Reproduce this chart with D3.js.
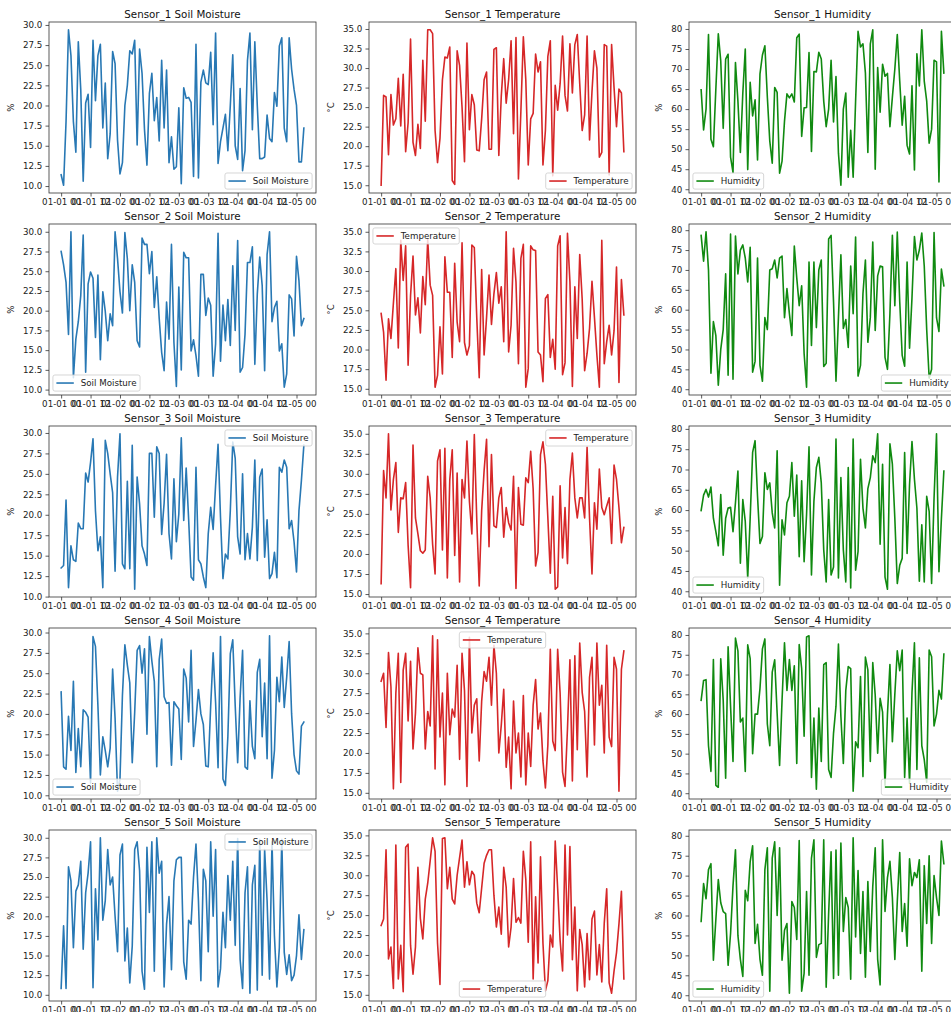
<!DOCTYPE html>
<html><head><meta charset="utf-8">
<script src="https://cdn.jsdelivr.net/npm/d3@7"></script>
<style>body{margin:0;background:#fff;overflow:hidden} svg{display:block}</style>
</head><body>
<svg id="chart" width="951" height="1012"></svg>
<script>
const sensors = ["Sensor_1","Sensor_2","Sensor_3","Sensor_4","Sensor_5"];
const metrics = ["Soil Moisture","Temperature","Humidity"];
const units = ["%","°C","%"];
const colors = ["#2878b4","#d62728","#108a10"];
const yTicks = [[10,12.5,15,17.5,20,22.5,25,27.5,30],[15,17.5,20,22.5,25,27.5,30,32.5,35],[40,45,50,55,60,65,70,75,80]];
const yTickFormats = [".1f",".1f","d"];
const xTickHours = [0,12,24,36,48,60,72,84,96];
const startTime = Date.UTC(2023,0,1,0,0,0);

const s1Soil = [11.4,10.1,18,29.4,26.2,18,14.2,27.9,22,10.6,20.3,21.4,14.8,28.1,20.6,26.2,27.6,17.2,22.8,13.4,16.5,26.7,25.2,15.7,11.5,12.9,20,22.5,26.8,26.4,28.1,15.1,27.0,24,17,12.6,21.5,24,18.1,21,15.6,25.6,17.2,24.4,12.9,16.1,12.1,12.4,19.7,10.3,22.2,20.9,21.0,20.4,11.2,27.6,11.0,22.9,24.4,22.8,22.6,26.6,17.6,29.0,12.8,15.5,17.2,18.9,14.4,20,26.3,15,13.3,22.1,11.9,14.4,25.6,29.0,17,27.9,20,13.4,13.4,13.6,18.8,15.9,15.5,21.6,19.9,27.4,28.4,17.2,15.5,28.4,24.5,22,20,13,13,17.2];
const s1Temp = [15.0,26.5,26.3,18.9,26.6,22.7,23.5,28.7,22.6,29.2,19.3,23,33.7,20.5,18.8,22.8,19.7,31,23.2,34.9,34.9,34.4,22,17.9,21,28.5,31.4,31.3,32.7,15.6,15.1,32.2,30.3,25,18,33.2,22.1,26.6,25.3,19.5,19.4,23.5,28.5,29.5,19.6,19.6,32.4,32.6,18.8,26.4,31.2,25.5,28.5,33.5,21.6,33.9,15.8,24.5,34.0,28.5,17.6,23.5,24.2,31.8,29.5,30.8,17.6,22,31.5,33.5,16.2,27.8,24.6,28,34.1,26.5,24.5,33.1,26.8,33,34.3,28,22,24,34.1,20.8,27,32.2,30,18.6,19.2,33,32.8,16.3,33,27.5,22.5,27.3,26.8,19.3];
const s1Hum = [64.8,54.8,60,78.6,52.5,50.6,65,78.8,72,55.2,72.5,73.7,48,44.2,71.6,62,49.2,64,75,44.9,66.7,58.3,62.3,47.3,68.8,73.5,75.8,63,52,46.5,65.4,64.2,44,47,57,63.8,62.8,63.8,61.8,77.8,78.7,53.2,60.3,60.4,74.1,49.4,69.4,69.3,74.2,72.5,62,55.6,60,72.2,56.8,68.1,49,41,60,64,43,54.7,43,62,79.4,75.5,76.3,69,49.2,76.3,79.8,45,70.4,59.2,71.2,68.2,68.9,55.6,63,70,78.6,67,56,63.2,51,48.8,65.8,44.8,73.8,65.8,79.8,67,62,51.5,55,72.2,71.8,41.8,79.4,69];
const s2Soil = [27.5,25.8,23.6,17.0,30.0,11.5,16.4,18.6,21.9,29.6,12.2,23.4,24.9,24.1,16.6,24.5,13.8,22.4,19.9,16.2,19.6,18.1,30.0,26.6,22.4,19.7,29.9,26.6,20.0,25.8,23.6,16.2,15.4,29.2,28.4,28.4,24.7,27.5,20.4,24.3,19.0,14.7,12.4,21.1,16.4,28.4,16.0,10.4,23.0,12.5,27.4,26.7,26.7,14.9,16.3,14.3,11.7,24.6,24.6,19.4,21.6,20.7,11.7,15.8,29.8,13.6,20.7,16.2,21.4,15.6,25.7,17.5,28.9,12.2,12.8,17.0,26.1,26.1,28.1,13.2,22.1,26.8,23.2,12.4,27.1,30.0,18.6,20.4,21.2,14.9,15.8,10.3,12.0,22.0,21.5,16.8,26.9,23.8,18.1,19.0];
const s2Temp = [24.6,22.2,16.1,23.9,21.4,25.9,30.3,20.2,33.9,28.8,33.2,18.0,26.9,31.9,24.4,26.6,22.1,29.3,25.7,34.0,28.2,26.9,15.2,16.7,22.9,16.9,31.8,27.3,27.3,19.0,31.0,23.5,21.0,33.6,20.9,19.3,20.5,33.3,33.0,24.1,16.4,30.2,19.3,24.1,29.5,23.2,27.1,29.8,25.9,28.0,21.0,35.0,19.7,23.1,32.9,28.6,18.2,31.6,33.4,15.2,17.6,33.2,32.7,32.6,19.7,19.3,15.9,26.5,27.0,19.0,21.3,17.5,33.2,34.5,16.8,18.3,34.8,28.6,15.3,28.0,21.4,32.1,26.4,17.3,19.5,22.7,28.7,24.1,19.3,15.2,33.9,18.2,21.0,23.1,19.3,22.4,30.5,15.8,28.9,24.4];
const s2Hum = [78.7,72.2,79.6,70,44,57,53.5,41,50,55,69,43.5,79,42.5,78.5,69,75,76.3,73,67,75.7,44.3,47,73,46,42,58,55,70,70.3,72.5,68,73,73.5,58,65.3,59,53.5,76,68,61,66,49,40.5,72,51,72,55.5,70,72.5,45.7,46.5,77.8,78.7,62,42,58,73.8,55.3,57.5,50.5,71,59,78.3,43.3,46,64,72.5,51.8,58,77,54.8,68.5,71,70.8,48,45,59,78.7,61,79.5,62,48.5,45.8,72,50.3,63,78.4,72.5,75,79.3,71,55,42.8,45,79.4,58,54.5,70.2,66];
const s3Soil = [13.5,13.8,21.8,11.1,16.2,14.5,14.3,19.0,18.3,18.3,25.1,24.0,26.4,29.3,20.5,15.6,17.3,11.1,29.1,27.5,25.0,22.7,13.1,24.6,29.9,14.0,13.4,24.1,13.4,28.5,10.9,24.6,21.3,16.2,15.2,13.8,27.5,27.5,19.7,28.3,27.5,17.6,21.4,27.4,17.7,14.6,24.4,16.7,20.1,29.4,19.3,25.7,19.5,12.4,12.0,25.8,14.5,14.0,12.4,11.1,17.7,20.9,18.2,23.6,28.6,19.7,12.2,15.2,14.6,20.5,28.9,26.9,17.3,15.2,25.0,14.5,17.7,14.6,18.5,26.7,14.4,24.6,25.6,14.8,19.4,12.2,12.8,15.4,12.3,25.8,25.2,26.7,25.8,18.3,19.3,16.7,13.0,20.5,24.2,28.5];
const s3Temp = [16.3,30.4,27.0,35.0,25.5,29.3,31.4,22.7,27.0,26.9,28.9,21.1,15.8,33.6,24.5,22.5,20.4,20.1,20.5,29.7,27.0,21.2,17.5,31.6,33.0,20.5,33.2,17.0,29.3,33.0,19.8,30.1,16.5,29.3,27.0,34.1,26.6,22.5,34.9,24.3,16.0,25.4,30.4,34.3,20.9,32.4,23.5,23.3,27.0,28.3,22.1,25.8,23.9,23.0,29.7,15.7,28.3,23.7,23.6,29.5,28.9,32.8,28.1,18.5,20.2,32.4,34.0,31.2,24.5,17.6,27.2,15.6,15.9,28.5,19.5,25.8,18.8,29.3,32.6,27.0,24.5,27.0,27.0,24.5,33.3,24.5,17.5,26.4,23.1,30.6,25.8,24.9,26.0,27.0,21.3,31.1,29.3,25.8,21.4,23.3];
const s3Hum = [59.9,63.7,65.1,63.2,65.7,58.0,54.7,51.2,63.8,48.9,58.0,60.5,60.7,54.7,61.8,69.6,46.9,62.6,57.2,43.3,58.0,74.2,77.1,63.4,51.8,53.5,69.2,65.1,66.7,59.3,55.6,74.6,41.5,57.6,53.9,61.8,63.4,71.7,58.5,68.6,48.5,67.2,47.3,58.9,75.6,44.0,62.2,70.5,73.0,66.7,50.2,42.3,62.6,44.0,46.0,77.5,43.3,68.0,50.2,42.3,70.5,40.8,77.5,45.2,49.8,72.5,60.5,55.6,65.3,68.0,73.4,71.7,78.8,51.6,71.3,43.5,40.5,76.3,71.3,58.0,41.9,46.4,48.1,74.2,49.3,66.3,76.9,67.6,60.5,42.5,56.4,42.3,63.4,59.7,41.9,63.0,78.8,44.8,58.0,69.6];
const s4Soil = [22.7,13.5,13.2,19.7,15.5,24,12.8,18.2,13.5,20.5,20.2,19.6,11.5,29.5,28.3,21,12.5,17.2,15.5,13.5,15.8,25.5,19.5,10.5,12,22.3,28.5,26,23.8,14,20.2,27.8,28.4,25,28,17.5,29.5,26.5,24,13.5,26.7,29.2,22.1,21.3,21.4,13.7,21.5,21,20.6,14.4,25.5,24.4,19,27.8,16,19.2,23,20,18.7,13.6,13.5,21,27.5,21.4,13.4,29.5,12,11.2,17.2,27.4,29.1,21,14,22,27.8,13.5,13.2,21.6,16,14.5,25.1,26.7,17.2,23.8,14.5,29.6,12.1,15.5,24.5,21.5,27,20.8,24.5,28.9,20,15,13,12.6,18.5,19];
const s4Temp = [29,30,23.2,32.6,28.3,15.5,27.5,32.5,16.3,30.4,32.5,24,31.5,20.5,25,33.2,30,29.8,20.5,25.2,23.4,34.7,18,34.2,22,27.5,16,30,22.3,25.5,24.5,31,19.2,32.5,27.8,15.8,34.5,22.5,26,26.8,19,26.5,30.2,29,32,26,33.5,30,20,23.5,28,18.2,22,15.5,26.5,20,22.5,17,27.2,16,22.5,18.3,26,29.2,23,25,19,15.6,21,33,21.5,20.3,33,27.5,17.6,15.8,23,31.7,16.5,32.2,20.4,33.8,27.6,25.2,17,29.5,32,21,33.8,26,28.5,20,33.5,22,20.8,32,30.5,15.2,30.5,32.8];
const s4Hum = [63.5,68.5,68.7,52,45.5,73.8,42,41.5,74,63.5,43.8,77,62,48,79.2,76,58,59,45.5,77.5,74,50,60,60,66.5,76.5,79,57.5,52,70.6,73.7,60.2,47,63.5,78,66,73.8,66,72.2,47.5,77.6,71.5,54.4,79.5,79.8,44,59,41,61.5,48,72.5,73,46,44,55.2,62,77.7,59.4,47.5,66,72,71.5,40.5,53,51.5,69.5,44.2,74.4,71.2,48,73,64.8,50.1,64,60.5,42,60,72.5,53,65,76,71,76.2,44,59,42.5,65.5,78,46,74.2,52,48.5,42.8,76.2,74.5,57,60,66,63.8,75.2];
const s5Soil = [10.8,18.8,10.8,26.3,24.5,16,23.2,24,27,15.8,23,25.5,29.5,10.9,23.5,17,30,19.5,22,28.5,24,25,20,15.5,27.8,29.2,14.3,18.5,11.5,16.2,28.5,29.5,25.8,13,10.7,28.8,20.5,29.5,13,30,25.5,27,11,19,22.5,13.2,24.5,27.2,27.5,27.5,14.2,12,19.5,19,25,29.2,22,11.8,26,24.5,15.5,29.5,20,28.5,11,13.3,20.5,16,25.2,19.5,27,16.3,29.9,14.5,10.8,23,26.3,10.2,24,26.5,10.6,29.8,12.5,28.5,22,12,29.5,17.5,11,16,29.8,15.4,12.6,15.1,11.8,12.5,15,20.2,14.5,18.3];
const s5Temp = [23.7,24.5,33.2,19.5,21,15.8,33.8,17,21.2,15.4,33.5,33.9,21.2,17.6,21,31,24.6,22,27,29,31.8,34.7,33,21.5,16.3,34.6,34.7,28.3,31,27,26.4,30,32.2,34.4,28.5,31.7,28.8,30.5,30,26.5,25.3,28.4,31.5,32.5,33.2,33.2,27.5,23.5,26,22.6,31,28.5,21,23.5,29.6,24.1,24.7,24,33,29.5,21.6,34.2,17,27.3,19,32.3,21.5,15.5,16.8,22.5,21,34.3,28.3,21.8,18,33.8,22.5,33.6,19.4,26,15.5,23.2,21.3,16,22.7,16.9,24.5,25.5,17.5,21.3,16.6,24,28.3,16.5,15.2,18,20.3,23.9,28,17];
const s5Hum = [58.5,68,64.2,71.5,73,48.8,59,69,63.2,61,60.5,47.5,55.5,67.5,76.5,55,49,44.7,66.3,63.7,73.5,77.5,53,57.8,49,45,71.5,77,41,74.4,78.5,60,77,48.8,56.3,58,40.5,63.5,62,54,78.8,41,45.5,66,45,74.4,79,49.5,52.7,53,79,42,60.5,76,44.2,76.4,45,78.2,56,64.5,62,44,79.5,54.6,71.3,50.5,66,44.5,68.5,51,67.3,77,49,42.6,79,61,69.5,73.6,64.5,49,63.5,75.8,56,63,52.3,74.2,67.5,70.8,69.5,74,46,72.5,58,75,53,70,64.5,60,78.7,73];

const seriesGrid = [
  [s1Soil,s1Temp,s1Hum],
  [s2Soil,s2Temp,s2Hum],
  [s3Soil,s3Temp,s3Hum],
  [s4Soil,s4Temp,s4Hum],
  [s5Soil,s5Temp,s5Hum]
];
const legendLoc = [
  ["lower right","lower right","lower left"],
  ["lower left","upper left","lower right"],
  ["upper right","upper right","lower left"],
  ["lower left","upper center","lower right"],
  ["upper right","lower center","lower left"]
];

// ---- layout ----
const colLeft = [49,369,689];
const rowTop = [22,224,426,628,830];
const W = 267, H = 171;
const FS = 8.7, TFS = 10.3;
const FONT = "DejaVu Sans, Verdana, sans-serif";
const spineColor = "#333";

const svg = d3.select("#chart");
svg.append("rect").attr("width",951).attr("height",1012).attr("fill","#fff");

const fmtX = d3.utcFormat("%m-%d %H");

seriesGrid.forEach((row, r) => {
  row.forEach((vals, c) => {
    const g = svg.append("g").attr("transform",`translate(${colLeft[c]},${rowTop[r]})`);
    const times = vals.map((v,i)=> new Date(startTime + i*3600*1000));
    const t0 = +times[0], t1 = +times[times.length-1];
    const tm = (t1-t0)*0.05;
    const x = d3.scaleUtc().domain([new Date(t0-tm), new Date(t1+tm)]).range([0,W]);
    const [mn,mx] = d3.extent(vals);
    const ym = (mx-mn)*0.05;
    const y = d3.scaleLinear().domain([mn-ym, mx+ym]).range([H,0]);

    const line = d3.line().x((d,i)=>x(times[i])).y(d=>y(d));
    g.append("path").datum(vals).attr("d",line)
      .attr("fill","none").attr("stroke",colors[c]).attr("stroke-width",1.6)
      .attr("stroke-linejoin","round").attr("stroke-linecap","square");

    const xTicks = xTickHours.map(h=>new Date(startTime+h*3600*1000));
    const xAxis = d3.axisBottom(x).tickValues(xTicks).tickFormat(fmtX).tickSize(3.5).tickPadding(2.6);
    const xa = g.append("g").attr("transform",`translate(0,${H})`).call(xAxis);
    const yt = yTicks[c].filter(v=> v>=y.domain()[0] && v<=y.domain()[1]);
    const yAxis = d3.axisLeft(y).tickValues(yt).tickFormat(d3.format(yTickFormats[c])).tickSize(3.5).tickPadding(3.2);
    const ya = g.append("g").call(yAxis);
    [xa,ya].forEach(a=>{
      a.select(".domain").remove();
      a.selectAll("line").attr("stroke",spineColor).attr("stroke-width",0.8);
      a.selectAll("text").attr("font-family",FONT).attr("font-size",FS).attr("fill","#222");
    });

    g.append("rect").attr("x",0).attr("y",0).attr("width",W).attr("height",H)
      .attr("fill","none").attr("stroke",spineColor).attr("stroke-width",0.8);

    g.append("text").attr("x",W/2).attr("y",-4).attr("text-anchor","middle")
      .attr("font-family",FONT).attr("font-size",TFS).attr("fill","#111")
      .text(`${sensors[r]} ${metrics[c]}`);

    const ylx = c===2 ? -27 : -35;
    g.append("text").attr("transform",`translate(${ylx},${H/2}) rotate(-90)`)
      .attr("text-anchor","middle").attr("font-family",FONT).attr("font-size",FS).attr("fill","#222")
      .text(units[c]);

    const lg = g.append("g");
    const lt = lg.append("text").attr("font-family",FONT).attr("font-size",FS).attr("fill","#222").text(metrics[c]);
    const tw = lt.node().getComputedTextLength();
    const pad = 0.4*FS, hl = 2*FS, hp = 0.8*FS, axp = 0.45*FS;
    const bw = pad + hl + hp + tw + pad;
    const bh = 2*pad + FS*1.05;
    const loc = legendLoc[r][c];
    let bx, by;
    if (loc.includes("left")) bx = axp;
    else if (loc.includes("right")) bx = W - axp - bw;
    else bx = (W-bw)/2;
    if (loc.includes("upper")) by = axp; else by = H - axp - bh;
    lg.insert("rect","text").attr("x",bx).attr("y",by).attr("width",bw).attr("height",bh)
      .attr("rx",2).attr("ry",2)
      .attr("fill","rgba(255,255,255,0.8)").attr("stroke","#cccccc").attr("stroke-width",0.8);
    lg.insert("line","text").attr("x1",bx+pad).attr("x2",bx+pad+hl).attr("y1",by+bh/2).attr("y2",by+bh/2)
      .attr("stroke",colors[c]).attr("stroke-width",1.6);
    lt.attr("x",bx+pad+hl+hp).attr("y",by+bh/2).attr("dy","0.36em");
  });
});
</script>
</body></html>
